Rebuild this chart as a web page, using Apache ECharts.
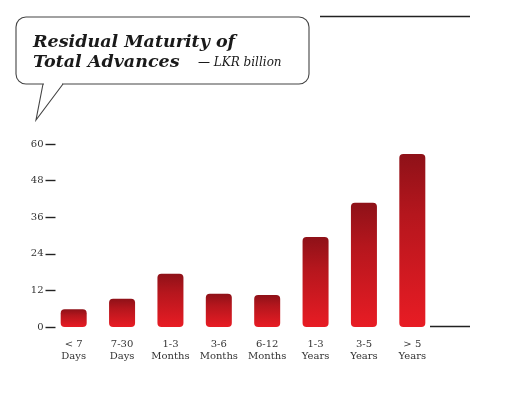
<!DOCTYPE html>
<html>
<head>
<meta charset="utf-8">
<style>html,body{margin:0;padding:0;background:#fff;}#c{width:518px;height:394px;}</style>
<script src="https://cdn.jsdelivr.net/npm/echarts@6/dist/echarts.min.js"></script>
</head>
<body>
<div id="c"></div>
<script>
const categories = ['< 7\nDays', '7-30\nDays', '1-3\nMonths', '3-6\nMonths', '6-12\nMonths', '1-3\nYears', '3-5\nYears', '> 5\nYears'];
const values = [5.8, 9.3, 17.5, 10.9, 10.5, 29.5, 40.7, 56.7];
const yTicks = [0, 12, 24, 36, 48, 60];
const titleLine1 = 'Residual Maturity of';
const titleLine2 = 'Total Advances';
const unitText = '— LKR billion';

const chart = echarts.init(document.getElementById('c'), null, {renderer: 'canvas'});
const serif = 'DejaVu Serif';
chart.setOption({
  animation: false,
  backgroundColor: '#fff',
  grid: {left: 49.5, right: 81.5, top: 144, bottom: 67},
  xAxis: {
    type: 'category',
    data: categories,
    axisLine: {show: false},
    axisTick: {show: false},
    axisLabel: {fontFamily: serif, fontSize: 10, color: '#333', lineHeight: 12.5, margin: 11, interval: 0}
  },
  yAxis: {
    type: 'value',
    min: yTicks[0],
    max: yTicks[yTicks.length - 1],
    interval: yTicks[1] - yTicks[0],
    offset: -6,
    splitLine: {show: false},
    axisLine: {show: false},
    axisTick: {show: true, length: 10, lineStyle: {color: '#222', width: 1.4}},
    axisLabel: {fontFamily: serif, fontSize: 10, color: '#333', margin: 12}
  },
  series: [{
    type: 'bar',
    data: values,
    barWidth: 26,
    itemStyle: {
      borderRadius: 4,
      color: {
        type: 'linear', x: 0, y: 0, x2: 0, y2: 1,
        colorStops: [
          {offset: 0, color: '#8e1118'},
          {offset: 0.35, color: '#b5161d'},
          {offset: 1, color: '#e81c24'}
        ]
      }
    }
  }],
  graphic: [
    {type: 'rect', shape: {x: 16, y: 17, width: 293, height: 67, r: 10},
     style: {fill: '#fff', stroke: '#444', lineWidth: 1.1}},
    {type: 'line', shape: {x1: 44, y1: 84, x2: 62, y2: 84}, style: {stroke: '#fff', lineWidth: 2.5}},
    {type: 'polyline', shape: {points: [[43, 84], [36, 120], [63, 84]]}, style: {stroke: '#444', lineWidth: 1.1, fill: null}},
    {type: 'line', shape: {x1: 320, y1: 16.5, x2: 470, y2: 16.5}, style: {stroke: '#222', lineWidth: 1.3}},
    {type: 'line', shape: {x1: 430, y1: 326.5, x2: 470, y2: 326.5}, style: {stroke: '#222', lineWidth: 1.3}},
    {type: 'text', left: 33, top: 33, style: {text: titleLine1, font: 'italic bold 17.5px "DejaVu Serif"', fill: '#1a1a1a'}},
    {type: 'text', left: 33, top: 53, style: {text: titleLine2, font: 'italic bold 17.5px "DejaVu Serif"', fill: '#1a1a1a'}},
    {type: 'text', left: 198, top: 57, style: {text: unitText, font: 'italic 12px "DejaVu Serif"', fill: '#1a1a1a'}}
  ]
});
</script>
</body>
</html>
